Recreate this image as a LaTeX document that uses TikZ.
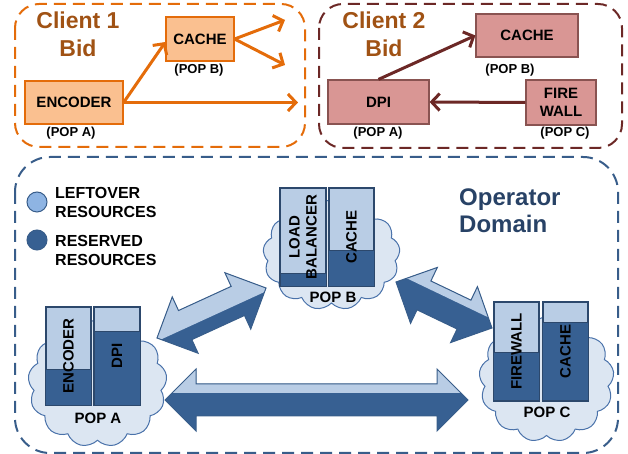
\documentclass[tikz,border=0pt]{standalone}
\usepackage{fontspec}
\setmainfont{Liberation Sans}
\usetikzlibrary{shapes.symbols,arrows.meta,calc}

\definecolor{clientorange}{RGB}{228,108,10}
\definecolor{clientpeach}{RGB}{250,192,144}
\definecolor{clientmaroon}{RGB}{108,40,38}
\definecolor{clientpink}{RGB}{217,150,148}
\definecolor{bidbrown}{RGB}{160,82,20}
\definecolor{opblue}{RGB}{56,93,138}
\definecolor{optitle}{RGB}{40,66,102}
\definecolor{leftover}{RGB}{185,205,229}
\definecolor{reserved}{RGB}{55,96,146}
\definecolor{rackline}{RGB}{44,72,108}
\definecolor{cloudfill}{RGB}{220,230,242}
\definecolor{cloudline}{RGB}{74,114,170}
\definecolor{legendlight}{RGB}{142,180,227}

\tikzset{
  bidframe/.style={draw=#1, line width=2pt, dash pattern=on 12pt off 7pt, rounded corners=24pt},
  vnfone/.style={draw=clientorange, fill=clientpeach, line width=1.2pt, inner sep=0pt,
    align=center, font=\fontsize{15}{18}\selectfont\bfseries},
  vnftwo/.style={draw=clientmaroon!80, fill=clientpink, line width=1.2pt, inner sep=0pt,
    align=center, font=\fontsize{15}{18}\selectfont\bfseries},
  poplabel/.style={inner sep=0pt, font=\fontsize{13}{15}\selectfont\bfseries},
  flowone/.style={draw=clientorange, line width=3pt, -{Straight Barb[length=8pt,width=17pt]}},
  flowtwo/.style={draw=clientmaroon, line width=3pt, -{Straight Barb[length=8pt,width=17pt]}},
  bidtitle/.style={text=bidbrown, align=center, inner sep=0pt, font=\fontsize{23}{28}\selectfont\bfseries},
  site/.style={cloud, cloud puffs=13, cloud puff arc=115, draw=cloudline, fill=cloudfill,
    line width=1pt, inner sep=0pt},
  rack/.style={draw=rackline, fill=leftover, line width=1.2pt, minimum width=45pt,
    minimum height=98pt, inner sep=0pt},
  racklabel/.style={rotate=90, align=center, inner sep=0pt, font=\fontsize{15}{17}\selectfont\bfseries},
  legendtext/.style={align=left, inner sep=0pt, font=\fontsize{16}{19}\selectfont\bfseries},
  keydot/.style={circle, draw=opblue, line width=1pt, minimum size=20pt, inner sep=0pt}
}

% one server rack: name, centre, reserved height, label
\newcommand\vnfrack[4]{%
  \node[rack] (#1) at #2 {};
  \fill[reserved] (#1.south west) rectangle ([yshift=#3]#1.south east);
  \draw[rackline, line width=1pt] ([yshift=#3]#1.south west) -- ([yshift=#3]#1.south east);
  \draw[rackline, line width=1.2pt] (#1.south west) rectangle (#1.north east);
  \node[racklabel] (#1text) at (#1) {#4};}

% fat two-headed link between two tips, split light/dark at #3
\newcommand\linkshape{(0,0) -- (31,31) -- (31,16) -- (\linklen-31,16) -- (\linklen-31,31)
  -- (\linklen,0) -- (\linklen-31,-31) -- (\linklen-31,-16) -- (31,-16) -- (31,-31) -- cycle}
\newcommand\duplexlink[3]{%
  \path let \p1=($(#2)-(#1)$) in
    \pgfextra{\pgfmathsetmacro\linkang{atan2(\y1,\x1)}%
      \pgfmathsetmacro\linklen{veclen(\x1,\y1)}%
      \global\let\linkang\linkang\global\let\linklen\linklen};
  \begin{scope}[shift={(#1)},rotate=\linkang]
    \fill[reserved] \linkshape;
    \begin{scope}
      \clip (-5,#3) rectangle (\linklen+5,40);
      \fill[leftover] \linkshape;
    \end{scope}
    \draw[opblue, line width=1pt, line join=miter] \linkshape;
  \end{scope}}

\begin{document}
\begin{tikzpicture}[x=1pt,y=1pt]
\useasboundingbox (0,0) rectangle (628,454);

% client 1
\draw[bidframe=clientorange] (15,450) rectangle (305,307);
\node[bidtitle] (title1) at (78,420) {Client 1\\Bid};
\node[vnfone, minimum width=98, minimum height=43] (enc1) at (74,351.5) {ENCODER};
\node[vnfone, minimum width=68, minimum height=44] (cache1) at (200,415) {CACHE};
\node[poplabel] (enc1pop) at (71,321) {(POP A)};
\node[poplabel] (cache1pop) at (199,384) {(POP B)};
\coordinate (out1) at (298,351.5);
\coordinate (out2) at (285,434);
\coordinate (out3) at (285,389);
\draw[flowone] (enc1.east) -- ([yshift=-3]cache1.west);
\draw[flowone] (enc1.east) -- (out1);
\draw[flowone] (cache1.east) -- (out2);
\draw[flowone] (cache1.east) -- (out3);

% client 2
\draw[bidframe=clientmaroon] (319,450) rectangle (622,306);
\node[bidtitle] (title2) at (384,420) {Client 2\\Bid};
\node[vnftwo, minimum width=102, minimum height=43] (cache2) at (527,418.5) {CACHE};
\node[vnftwo, minimum width=101, minimum height=44] (dpi2) at (378.5,352) {DPI};
\node[vnftwo, minimum width=70, minimum height=45] (fw2) at (561,351.5) {FIRE\\WALL};
\node[poplabel] (cache2pop) at (510,384) {(POP B)};
\node[poplabel] (dpi2pop) at (378,321) {(POP A)};
\node[poplabel] (fw2pop) at (565,321) {(POP C)};
\draw[flowtwo] (dpi2.north) -- (cache2.west);
\draw[flowtwo] (fw2.west) -- (dpi2.east);

% operator domain
\draw[bidframe=opblue, rounded corners=35pt] (15,297) rectangle (618,1);
\node[text=optitle, align=left, anchor=west, inner sep=0pt,
  font=\fontsize{24}{27}\selectfont\bfseries] (optitle) at (459,243) {Operator\\Domain};

% legend
\node[keydot, fill=legendlight] (keyfree) at (37,252) {};
\node[keydot, fill=reserved] (keyused) at (37,214) {};
\node[legendtext, anchor=west] (keyfreetext) at (55,252) {LEFTOVER\\RESOURCES};
\node[legendtext, anchor=west] (keyusedtext) at (55,204) {RESERVED\\RESOURCES};

% points of presence
\node[site, minimum width=139, minimum height=127] (popa) at (97.5,70.5) {};
\node[site, minimum width=137, minimum height=110] (popb) at (331.5,199) {};
\node[site, minimum width=135, minimum height=125] (popc) at (546.5,74.5) {};

\vnfrack{encA}{(68.5,98)}{36}{ENCODER}
\vnfrack{dpiA}{(117,98)}{74}{DPI}
\vnfrack{lbB}{(303,217)}{13}{LOAD\\BALANCER}
\vnfrack{cacheB}{(351.5,217)}{36}{CACHE}
\vnfrack{fwC}{(516.5,102.5)}{49}{FIREWALL}
\vnfrack{cacheC}{(565.5,102.5)}{79}{CACHE}

\node[poplabel, font=\fontsize{15}{17}\selectfont\bfseries] (popatext) at (98,36) {POP A};
\node[poplabel, font=\fontsize{15}{17}\selectfont\bfseries] (popbtext) at (333,157) {POP B};
\node[poplabel, font=\fontsize{15}{17}\selectfont\bfseries] (popctext) at (547,42) {POP C};

% links between the sites
\coordinate (abA) at (157,116);
\coordinate (abB) at (266,166);
\coordinate (bcB) at (396,172);
\coordinate (bcC) at (492,126);
\coordinate (acA) at (165,54);
\coordinate (acC) at (468,54);
\duplexlink{abA}{abB}{-3}
\duplexlink{bcB}{bcC}{8}
\duplexlink{acA}{acC}{7}
\end{tikzpicture}
\end{document}
